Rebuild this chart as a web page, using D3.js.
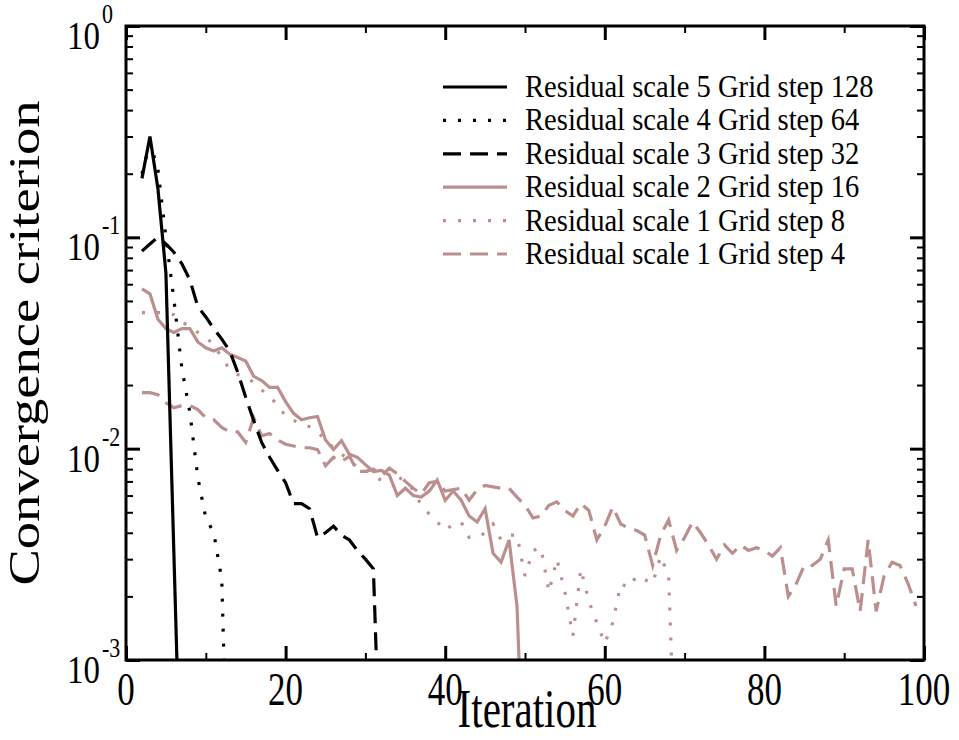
<!DOCTYPE html>
<html>
<head>
<meta charset="utf-8">
<script src="https://cdn.jsdelivr.net/npm/d3@7"></script>
<style>
  html, body { margin: 0; padding: 0; background: #fff; }
  svg { display: block; }
  text { font-family: "Liberation Serif", "Times New Roman", serif; fill: #000; }
</style>
</head>
<body>
<svg id="chart" width="959" height="740"></svg>
<script>
'use strict';

// ── Data ───────────────────────────────────────────────────────────────────
const FIRST_ITER = 2;   // every series starts at iteration 2

const scale5grid128 = [0.19, 0.30, 0.17, 0.068, 0.0032, 1.5e-4];

const scale4grid64 = [0.20, 0.28, 0.21, 0.10, 0.051, 0.024, 0.0149, 0.0073,
  0.0047, 0.0040, 0.0024, 1e-4];

const scale3grid32 = [0.086, 0.093, 0.10, 0.093, 0.085, 0.075, 0.063, 0.047,
  0.042, 0.037, 0.033, 0.029, 0.023, 0.0175, 0.0136, 0.0107, 0.0091, 0.0079,
  0.0069, 0.0055, 0.0055, 0.0052, 0.0038, 0.0040, 0.0043, 0.0039, 0.0037,
  0.0033, 0.0030, 0.0027, 2e-4];

const scale2grid16 = [0.057, 0.054, 0.041, 0.037, 0.0355, 0.037, 0.037, 0.032,
  0.030, 0.029, 0.030, 0.028, 0.027, 0.026, 0.022, 0.021, 0.0195, 0.0195,
  0.0167, 0.0147, 0.0137, 0.0140, 0.0142, 0.0110, 0.0099, 0.0109, 0.0094,
  0.0091, 0.0084, 0.0078, 0.0079, 0.0075, 0.0060, 0.0065, 0.0060, 0.0059,
  0.0063, 0.0071, 0.0057, 0.0063, 0.0057, 0.0048, 0.0045, 0.0052, 0.0032,
  0.0029, 0.0037, 0.0018, 1.8e-4];

const scale1grid8 = [0.044, 0.044, 0.044, 0.044, 0.043, 0.040, 0.0375, 0.0355,
  0.0336, 0.031, 0.027, 0.0237, 0.0224, 0.0218, 0.0206, 0.019, 0.0175, 0.0162,
  0.0142, 0.0136, 0.0132, 0.0127, 0.0120, 0.0110, 0.0101, 0.0094, 0.0089,
  0.0081, 0.0080, 0.0074, 0.0071, 0.0080, 0.0074, 0.0070, 0.0064, 0.0054,
  0.0049, 0.0045, 0.0041, 0.0044, 0.0045, 0.0038, 0.0038, 0.0040, 0.0044,
  0.0037, 0.0039, 0.0039, 0.0025, 0.0033, 0.0034, 0.0021, 0.0030, 0.0021,
  0.0013, 0.0027, 0.0019, 0.0015, 0.0012, 0.0015, 0.0023, 0.0022, 0.0025,
  0.0024, 0.0023, 0.0031, 0.0025, 2e-4];

const scale1grid4 = [0.0184, 0.0184, 0.0180, 0.0165, 0.0156, 0.0160, 0.0160,
  0.0153, 0.0140, 0.0137, 0.0126, 0.0120, 0.0120, 0.0107, 0.0140, 0.0115,
  0.0118, 0.0110, 0.0105, 0.0103, 0.0101, 0.0101, 0.0099, 0.0083, 0.0091,
  0.0087, 0.0092, 0.0078, 0.0078, 0.0080, 0.0074, 0.0081, 0.0076, 0.0070,
  0.0065, 0.0061, 0.0069, 0.0070, 0.0063, 0.0064, 0.0065, 0.0057, 0.0064,
  0.0067, 0.0066, 0.0065, 0.0065, 0.0059, 0.0054, 0.0047, 0.0048, 0.0054,
  0.0056, 0.0051, 0.0048, 0.0055, 0.0051, 0.0037, 0.0043, 0.0053, 0.0044,
  0.0042, 0.0041, 0.0039, 0.0028, 0.0039, 0.0046, 0.0033, 0.0038, 0.0045,
  0.0040, 0.0035, 0.0030, 0.0035, 0.0032, 0.0035, 0.0033, 0.0034, 0.0033,
  0.0031, 0.0034, 0.0020, 0.0023, 0.0028, 0.0028, 0.0030, 0.0037, 0.0018,
  0.0027, 0.0027, 0.0017, 0.0037, 0.0017, 0.0025, 0.0029, 0.0028, 0.0023,
  0.0018];

const seriesLabels = [
  'Residual scale 5 Grid step 128',
  'Residual scale 4 Grid step 64',
  'Residual scale 3 Grid step 32',
  'Residual scale 2 Grid step 16',
  'Residual scale 1 Grid step 8',
  'Residual scale 1 Grid step 4'
];
const seriesValues = [scale5grid128, scale4grid64, scale3grid32,
  scale2grid16, scale1grid8, scale1grid4];

const xMajorTicks = [0, 20, 40, 60, 80, 100];
const xMinorTicks = [10, 30, 50, 70, 90];
const yExponents  = [0, -1, -2, -3];

// ── Styles ─────────────────────────────────────────────────────────────────
const BLACK = '#000000';
const ROSE  = '#bc8f8f';
const DOT   = '3,12';
const DASH  = '18,9';
const STYLES = [
  { color: BLACK, dash: null },
  { color: BLACK, dash: DOT },
  { color: BLACK, dash: DASH },
  { color: ROSE,  dash: null },
  { color: ROSE,  dash: DOT },
  { color: ROSE,  dash: DASH }
];

// ── Layout ─────────────────────────────────────────────────────────────────
const L = 126, R = 924, T = 26, B = 660;

const svg = d3.select('#chart');

const x = d3.scaleLinear().domain([0, 100]).range([L, R]);
const y = d3.scaleLog().domain([1e-3, 1]).range([B, T]);

svg.append('defs').append('clipPath').attr('id', 'plot-clip')
  .append('rect')
  .attr('x', L).attr('y', T).attr('width', R - L).attr('height', B - T);

// ── Series ─────────────────────────────────────────────────────────────────
const line = d3.line()
  .x((d, i) => x(FIRST_ITER + i))
  .y(d => y(d));

const plot = svg.append('g').attr('clip-path', 'url(#plot-clip)');

// draw rose first so black sits on top
[3, 4, 5, 0, 1, 2].forEach(k => {
  plot.append('path')
    .datum(seriesValues[k])
    .attr('d', line)
    .attr('fill', 'none')
    .attr('stroke', STYLES[k].color)
    .attr('stroke-width', 3.2)
    .attr('stroke-linejoin', 'miter')
    .attr('stroke-dasharray', STYLES[k].dash);
});

// ── Axes (ticks inward on all four sides) ──────────────────────────────────
const yMinor = [];
for (let e = -3; e < 0; e++) {
  for (let m = 2; m <= 9; m++) yMinor.push(m * Math.pow(10, e));
}
const yMajor = yExponents.map(e => Math.pow(10, e));

function tickGroup(axis, tx, ty, width) {
  const g = svg.append('g').attr('transform', `translate(${tx},${ty})`).call(axis);
  g.select('.domain').remove();
  g.selectAll('.tick line').attr('stroke', '#000').attr('stroke-width', width);
  g.selectAll('.tick text').remove();
}

tickGroup(d3.axisBottom(x).tickValues(xMajorTicks).tickSize(-14), 0, B, 3);
tickGroup(d3.axisBottom(x).tickValues(xMinorTicks).tickSize(-7), 0, B, 2);
tickGroup(d3.axisTop(x).tickValues(xMajorTicks).tickSize(-14), 0, T, 3);
tickGroup(d3.axisTop(x).tickValues(xMinorTicks).tickSize(-7), 0, T, 2);
tickGroup(d3.axisLeft(y).tickValues(yMajor).tickSize(-14), L, 0, 3);
tickGroup(d3.axisLeft(y).tickValues(yMinor).tickSize(-7), L, 0, 2);
tickGroup(d3.axisRight(y).tickValues(yMajor).tickSize(-14), R, 0, 3);
tickGroup(d3.axisRight(y).tickValues(yMinor).tickSize(-7), R, 0, 2);

svg.append('rect')
  .attr('x', L).attr('y', T).attr('width', R - L).attr('height', B - T)
  .attr('fill', 'none').attr('stroke', '#000').attr('stroke-width', 3);

// ── Tick labels (glyphs in the reference are taller than wide) ─────────────
xMajorTicks.forEach(v => {
  svg.append('text')
    .attr('transform', `translate(${x(v)},${B + 45}) scale(1,1.35)`)
    .attr('text-anchor', 'middle')
    .attr('font-size', 35)
    .text(v);
});

yExponents.forEach(e => {
  const ty = y(Math.pow(10, e));
  svg.append('text')
    .attr('transform', `translate(100,${ty + 23}) scale(1,1.2)`)
    .attr('text-anchor', 'end')
    .attr('font-size', 33)
    .text('10');
  svg.append('text')
    .attr('transform', `translate(102,${ty - 3}) scale(1,1.2)`)
    .attr('text-anchor', 'start')
    .attr('font-size', 22)
    .text(e === 0 ? '0' : '-' + Math.abs(e));
});

// ── Axis titles ────────────────────────────────────────────────────────────
svg.append('text')
  .attr('transform', `translate(${(L + R) / 2 + 2},727) scale(1,1.35)`)
  .attr('text-anchor', 'middle')
  .attr('font-size', 41)
  .text('Iteration');

svg.append('text')
  .attr('transform', `translate(39,${(T + B) / 2}) rotate(-90) scale(1.24,1)`)
  .attr('text-anchor', 'middle')
  .attr('font-size', 44)
  .text('Convergence criterion');

// ── Legend ─────────────────────────────────────────────────────────────────
const legend = svg.append('g');
seriesLabels.forEach((label, k) => {
  const ly = 87 + k * 33.4;
  legend.append('line')
    .attr('x1', 443).attr('x2', 507).attr('y1', ly).attr('y2', ly)
    .attr('stroke', STYLES[k].color)
    .attr('stroke-width', 3.2)
    .attr('stroke-dasharray', STYLES[k].dash);
  legend.append('text')
    .attr('transform', `translate(525,${ly + 10}) scale(1,1.12)`)
    .attr('font-size', 28.6)
    .text(label);
});
</script>
</body>
</html>
